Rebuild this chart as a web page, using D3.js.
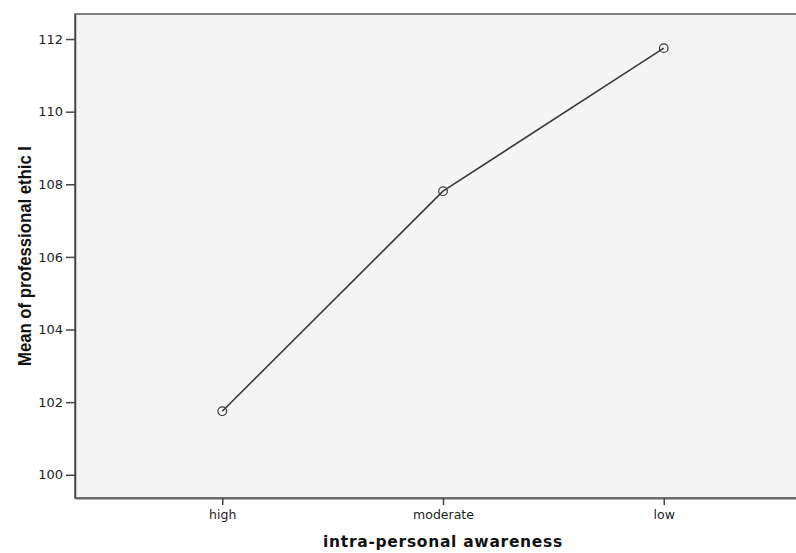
<!DOCTYPE html>
<html>
<head>
<meta charset="utf-8">
<script src="https://cdn.jsdelivr.net/npm/d3@7"></script>
<style>
  body { margin: 0; background: #fff; }
  svg { display: block; }
</style>
</head>
<body>
<svg id="chart" width="796" height="553"></svg>
<script>
// data
const categories = ["high", "moderate", "low"];
const means = [101.75, 107.81, 111.75];
const yTicks = [100, 102, 104, 106, 108, 110, 112];

const plotLeft = 75, plotRight = 811, plotTop = 14, plotBottom = 498;

const svg = d3.select("#chart");

const x = d3.scalePoint()
  .domain(categories)
  .range([plotLeft, plotRight])
  .padding(0.667);

const y = d3.scaleLinear()
  .domain([99.36, 112.69])
  .range([plotBottom, plotTop]);

// plot background
svg.append("rect")
  .attr("x", plotLeft)
  .attr("y", plotTop)
  .attr("width", plotRight - plotLeft)
  .attr("height", plotBottom - plotTop)
  .attr("fill", "#f4f4f4")
  .attr("stroke", "#5a5a5a")
  .attr("stroke-width", 1.5);

// Y axis
const yAxis = svg.append("g")
  .attr("transform", "translate(" + plotLeft + ",0)")
  .call(d3.axisLeft(y).tickValues(yTicks).tickSizeInner(9).tickSizeOuter(0).tickPadding(3).tickFormat(d3.format("d")));
yAxis.select(".domain").attr("stroke", "#444").attr("stroke-width", 1.5);
yAxis.selectAll(".tick line").attr("stroke", "#444").attr("stroke-width", 1.5);
yAxis.selectAll(".tick text")
  .attr("fill", "#222")
  .style("font-family", "'DejaVu Sans', sans-serif")
  .style("font-size", "13px");

// X axis
const xAxis = svg.append("g")
  .attr("transform", "translate(0," + plotBottom + ")")
  .call(d3.axisBottom(x).tickSizeInner(7).tickSizeOuter(0).tickPadding(5));
xAxis.select(".domain").attr("stroke", "#666").attr("stroke-width", 2);
xAxis.selectAll(".tick line").attr("stroke", "#444").attr("stroke-width", 1.5);
xAxis.selectAll(".tick text")
  .attr("fill", "#222")
  .style("font-family", "'DejaVu Sans', sans-serif")
  .style("font-size", "12.5px");

// line
svg.append("path")
  .datum(means)
  .attr("fill", "none")
  .attr("stroke", "#3a3a3a")
  .attr("stroke-width", 1.6)
  .attr("d", d3.line()
    .x(function (d, i) { return x(categories[i]) })
    .y(function (d) { return y(d) })
  );

// markers
svg.selectAll("circle.pt")
  .data(means)
  .enter()
  .append("circle")
  .attr("class", "pt")
  .attr("cx", function (d, i) { return x(categories[i]) })
  .attr("cy", function (d) { return y(d) })
  .attr("r", 4.3)
  .attr("fill", "none")
  .attr("stroke", "#3a3a3a")
  .attr("stroke-width", 1.2);

// axis titles
svg.append("text")
  .attr("x", 443)
  .attr("y", 547)
  .attr("text-anchor", "middle")
  .attr("fill", "#111")
  .style("font-family", "'DejaVu Sans', sans-serif")
  .style("font-weight", "bold")
  .style("font-size", "15.5px")
  .style("letter-spacing", "0.7px")
  .text("intra-personal awareness");

svg.append("text")
  .attr("transform", "translate(31," + ((plotTop + plotBottom) / 2) + ") rotate(-90)")
  .attr("text-anchor", "middle")
  .attr("fill", "#111")
  .attr("textLength", 220)
  .attr("lengthAdjust", "spacingAndGlyphs")
  .style("font-family", "'Liberation Sans Narrow', 'Liberation Sans', sans-serif")
  .style("font-weight", "bold")
  .style("font-size", "18px")
  .text("Mean of professional ethic I");
</script>
</body>
</html>
